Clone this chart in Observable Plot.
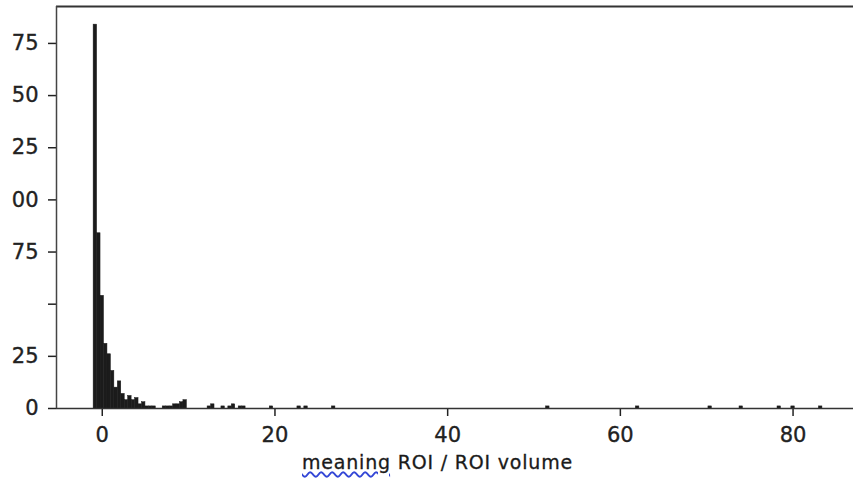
<!DOCTYPE html>
<html><head><meta charset="utf-8">
<script src="https://cdn.jsdelivr.net/npm/d3@7"></script>
<script src="https://cdn.jsdelivr.net/npm/@observablehq/plot@0.6"></script>
<style>
html,body{margin:0;padding:0;background:#fff;}
#wrap{position:relative;width:853px;height:486px;overflow:hidden;background:#fff;}
#chart svg{display:block;clip-path:inset(0 0 0 11px);}
#chart svg [aria-label$="tick"] path, #chart svg .tick line{stroke-width:1.5px;}
#chart svg text{stroke:#222;stroke-width:0.35px;}
#title{position:absolute;left:302px;top:451px;font-family:"DejaVu Sans";font-size:19px;letter-spacing:0.8px;color:#1a1a1a;white-space:nowrap;-webkit-text-stroke:0.3px #1a1a1a;}
.sq{text-decoration:underline wavy #3346d6;text-decoration-thickness:1.5px;text-underline-offset:2px;}
.last{letter-spacing:0;}
.gap{margin-left:0.8px;}
</style></head>
<body><div id="wrap"><div id="chart"></div><div id="title"><span class="sq">meanin<span class="last">g</span></span><span class="gap"> ROI / ROI volume</span></div></div>
<script>
// histogram bins (value of left edge) and counts
const binWidth = 0.4;
const binStart = [-1.0,-0.6,-0.2,0.2,0.6,1.0,1.4,1.8,2.2,2.6,3.0,3.4,3.8,4.2,4.6,5.0,5.4,5.8,
  7.0,7.4,7.8,8.2,8.6,9.0,9.4,12.2,12.6,13.8,14.6,15.0,15.8,16.2,19.4,22.6,23.4,26.6,
  51.4,61.8,70.2,73.8,78.2,79.8,83.0];
const counts = [184,84,54,31,26,18,10,13,7,4,6,4,5,2,3,1,1,1,
  1,1,1,2,2,3,4,1,2,1,1,2,1,1,1,1,1,1,
  1,1,1,1,1,1,1];
const xTicks = [0,20,40,60,80];
const yTicks = [0,25,50,75,100,125,150,175];
const yTickLabels = ["0","25","","75","100","125","150","175"];
const xDomain = [-5.3, 87];
const yDomain = [0, 192.7];

const bins = binStart.map((x, i) => ({x1: x, x2: x + binWidth, y: counts[i]}));
const yLab = new Map(yTicks.map((t, i) => [t, yTickLabels[i]]));

const chart = Plot.plot({
  width: 853, height: 446,
  marginLeft: 56, marginRight: 0, marginTop: 6, marginBottom: 38,
  style: {fontFamily: "DejaVu Sans", fontSize: "21px", color: "#222", background: "#fff"},
  x: {domain: xDomain, ticks: xTicks, tickSize: 8, tickPadding: 11, label: null},
  y: {domain: yDomain, ticks: yTicks, tickFormat: d => yLab.get(d), tickSize: 8, tickPadding: 10, label: null},
  marks: [
    Plot.rect(bins, {x1: "x1", x2: "x2", y1: 0, y2: "y", inset: 0, fill: "#1b1b1b", stroke: "#1b1b1b", strokeWidth: 0.5}),
    Plot.ruleY([0], {stroke: "#333", strokeWidth: 1.5}),
    Plot.ruleY([yDomain[1]], {stroke: "#333", strokeWidth: 2}),
    Plot.ruleX([xDomain[0]], {stroke: "#444", strokeWidth: 1.5})
  ]
});
document.getElementById("chart").appendChild(chart);
</script></body></html>
